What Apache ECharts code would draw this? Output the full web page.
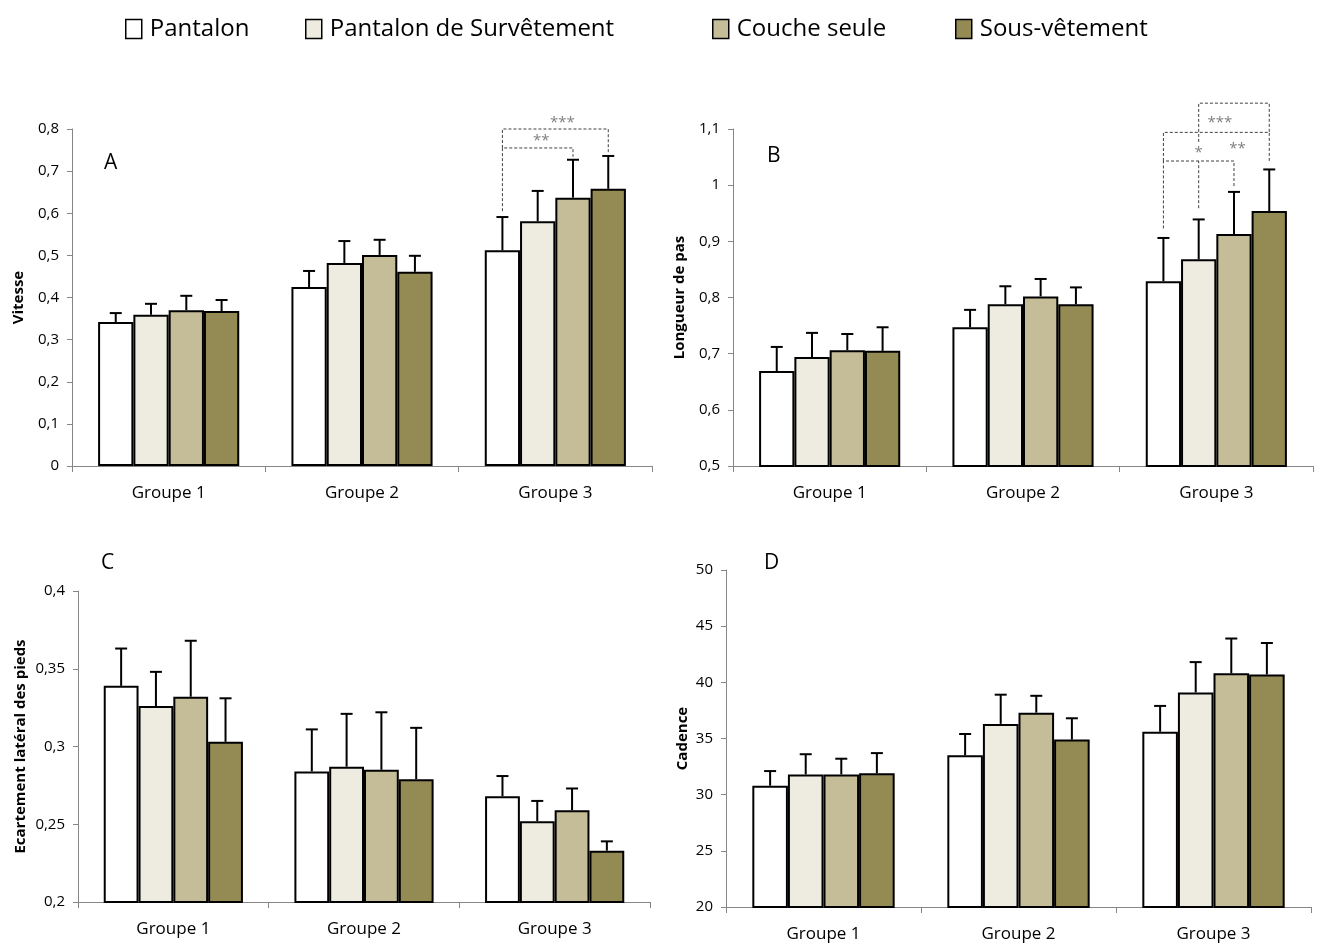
<!DOCTYPE html>
<html>
<head>
<meta charset="utf-8">
<script src="https://cdn.jsdelivr.net/npm/echarts@6/dist/echarts.min.js"></script>
<style>
  html, body { margin: 0; padding: 0; background: #fff; }
  #main { width: 1320px; height: 947px; }
</style>
</head>
<body>
<div id="main"></div>
<script>
const groups = ['Groupe 1', 'Groupe 2', 'Groupe 3'];
const seriesNames = ['Pantalon', 'Pantalon de Survêtement', 'Couche seule', 'Sous-vêtement'];
const colors = ['#FFFFFF', '#EEECE1', '#C4BD97', '#948A54'];

// one row per series, one value per group
const vitesse = [[0.342, 0.425, 0.512], [0.359, 0.482, 0.581], [0.370, 0.501, 0.637], [0.368, 0.461, 0.658]];
const vitesseErr = [[0.363, 0.463, 0.591], [0.385, 0.534, 0.653], [0.404, 0.537, 0.727], [0.394, 0.499, 0.736]];
const longueur = [[0.669, 0.747, 0.829], [0.694, 0.788, 0.868], [0.706, 0.802, 0.913], [0.705, 0.788, 0.954]];
const longueurErr = [[0.712, 0.778, 0.906], [0.737, 0.820, 0.939], [0.735, 0.833, 0.988], [0.747, 0.818, 1.028]];
const ecartement = [[0.339, 0.284, 0.268], [0.326, 0.287, 0.252], [0.332, 0.285, 0.259], [0.303, 0.279, 0.233]];
const ecartementErr = [[0.363, 0.311, 0.281], [0.348, 0.321, 0.265], [0.368, 0.322, 0.273], [0.331, 0.312, 0.239]];
const cadence = [[30.8, 33.5, 35.6], [31.8, 36.3, 39.1], [31.8, 37.3, 40.8], [31.9, 34.9, 40.7]];
const cadenceErr = [[32.1, 35.4, 37.9], [33.6, 38.9, 41.8], [33.2, 38.8, 43.9], [33.7, 36.8, 43.5]];

// significance brackets on Groupe 3: [bar A, leg A bottom, bracket level, bar B, leg B bottom]
const sigLinesA = [[0, 0.605, 0.755, 2, 0.734], [0, 0.755, 0.800, 3, 0.745]];
const sigTextA = [[1.1, 0.772, '**'], [1.7, 0.815, '***']];
const sigLinesB = [[0, 0.923, 1.043, 2, 0.996], [0, 1.043, 1.094, 3, 1.041], [1, 1.077, 1.146, 3, 1.094], [1, 0.959, 1.043, 1, 1.043]];
const sigTextB = [[1.6, 1.112, '***'], [1.0, 1.057, '*'], [2.1, 1.064, '**']];

const GAP = 0.27;
const FONT = '"Open Sans", sans-serif';

var myChart = echarts.init(document.getElementById('main'));

function fmt (v) {
  return String(+v.toFixed(2)).replace('.', ',');
}

function barX (api, cat, b) {
  var cx = api.coord([cat, 0])[0];
  var bw = api.size([1, 0])[0] * (1 - GAP) / 4;
  return cx - 2 * bw + (b + 0.5) * bw;
}

function errRender (si) {
  return function (params, api) {
    var cat = api.value(0);
    var x = barX(api, cat, si);
    var y0 = api.coord([cat, api.value(1)])[1];
    var y1 = api.coord([cat, api.value(2)])[1];
    return {
      type: 'group',
      children: [
        { type: 'line', shape: { x1: x, y1: y0, x2: x, y2: y1 }, style: { stroke: '#000', lineWidth: 2 } },
        { type: 'line', shape: { x1: x - 6, y1: y1, x2: x + 6, y2: y1 }, style: { stroke: '#000', lineWidth: 2 } }
      ]
    };
  };
}

function bracketRender (params, api) {
  var xa = barX(api, 2, api.value(1));
  var xb = barX(api, 2, api.value(4));
  var ya = api.coord([2, api.value(2)])[1];
  var yt = api.coord([2, api.value(3)])[1];
  var yb = api.coord([2, api.value(5)])[1];
  return {
    type: 'polyline',
    shape: { points: [[xa, ya], [xa, yt], [xb, yt], [xb, yb]] },
    style: { stroke: '#404040', lineWidth: 1, lineDash: [3, 2], fill: null }
  };
}

function textRender (list) {
  return function (params, api) {
    var x = barX(api, 2, api.value(1));
    var y = api.coord([2, api.value(2)])[1];
    return {
      type: 'text',
      style: {
        x: x, y: y, text: list[params.dataIndex][2],
        fill: '#7f7f7f', font: '15px ' + FONT, align: 'center', verticalAlign: 'middle'
      }
    };
  };
}

var grids = [
  { left: 72, top: 129, width: 580, height: 337 },
  { left: 733, top: 129, width: 580, height: 337 },
  { left: 78, top: 591, width: 572, height: 311 },
  { left: 726, top: 570, width: 585, height: 337 }
];

var panels = [
  { name: 'Vitesse', min: 0, max: 0.8, interval: 0.1, gap: 46, vals: vitesse, errs: vitesseErr },
  { name: 'Longueur de pas', min: 0.5, max: 1.1, interval: 0.1, gap: 46, vals: longueur, errs: longueurErr },
  { name: 'Ecartement latéral des pieds', min: 0.2, max: 0.4, interval: 0.05, gap: 50, vals: ecartement, errs: ecartementErr },
  { name: 'Cadence', min: 20, max: 50, interval: 5, gap: 36, vals: cadence, errs: cadenceErr }
];

var xAxes = [];
var yAxes = [];
var series = [];

panels.forEach(function (p, gi) {
  xAxes.push({
    gridIndex: gi,
    type: 'category',
    data: groups,
    axisLine: { lineStyle: { color: '#868686', width: 1 } },
    axisTick: { show: true, length: 6, lineStyle: { color: '#868686' } },
    axisLabel: { color: '#000', fontSize: 17, fontFamily: FONT, margin: 19 }
  });
  yAxes.push({
    gridIndex: gi,
    type: 'value',
    min: p.min, max: p.max, interval: p.interval,
    name: p.name,
    nameLocation: 'middle',
    nameGap: p.gap,
    nameTextStyle: { color: '#000', fontSize: 15, fontWeight: 'bold', fontFamily: FONT },
    axisLine: { show: true, lineStyle: { color: '#868686', width: 1 } },
    axisTick: { show: true, length: 5, lineStyle: { color: '#868686' } },
    splitLine: { show: false },
    axisLabel: { color: '#000', fontSize: 15, fontFamily: FONT, margin: 13, formatter: fmt }
  });
  seriesNames.forEach(function (n, si) {
    series.push({
      name: n,
      type: 'bar',
      xAxisIndex: gi, yAxisIndex: gi,
      barGap: 0,
      barCategoryGap: (GAP * 100) + '%',
      itemStyle: { color: colors[si], borderColor: '#000', borderWidth: 2 },
      data: p.vals[si]
    });
  });
  seriesNames.forEach(function (n, si) {
    series.push({
      type: 'custom',
      xAxisIndex: gi, yAxisIndex: gi,
      renderItem: errRender(si),
      encode: { x: 0, y: [1, 2] },
      z: 3,
      silent: true,
      data: groups.map(function (g, ci) { return [ci, p.vals[si][ci], p.errs[si][ci]]; })
    });
  });
});

[[sigLinesA, sigTextA, 0], [sigLinesB, sigTextB, 1]].forEach(function (s) {
  series.push({
    type: 'custom',
    xAxisIndex: s[2], yAxisIndex: s[2],
    renderItem: bracketRender,
    encode: { x: 0, y: [2, 3, 5] },
    clip: false, silent: true, z: 4,
    data: s[0].map(function (d) { return [2].concat(d); })
  });
  series.push({
    type: 'custom',
    xAxisIndex: s[2], yAxisIndex: s[2],
    renderItem: textRender(s[1]),
    encode: { x: 0, y: 2 },
    clip: false, silent: true, z: 5,
    data: s[1].map(function (d) { return [2, d[0], d[1]]; })
  });
});

var legendLeft = [120, 300, 707, 950];
var legends = seriesNames.map(function (n, i) {
  return {
    left: legendLeft[i], top: 12,
    data: [n],
    icon: 'rect',
    itemWidth: 16, itemHeight: 19,
    itemStyle: { borderColor: '#000', borderWidth: 1.5 },
    textStyle: { fontSize: 24, fontFamily: FONT, color: '#000', padding: [0, 0, 0, 3] },
    selectedMode: false
  };
});

var letters = [['A', 99, 148], ['B', 762, 141], ['C', 96, 548], ['D', 759, 548]];
var titles = letters.map(function (l) {
  return {
    text: l[0], left: l[1], top: l[2],
    textStyle: { fontSize: 21, fontWeight: 'normal', fontFamily: FONT, color: '#000' }
  };
});

var option = {
  animation: false,
  backgroundColor: '#fff',
  title: titles,
  legend: legends,
  grid: grids,
  xAxis: xAxes,
  yAxis: yAxes,
  series: series
};
myChart.setOption(option);
</script>
</body>
</html>
